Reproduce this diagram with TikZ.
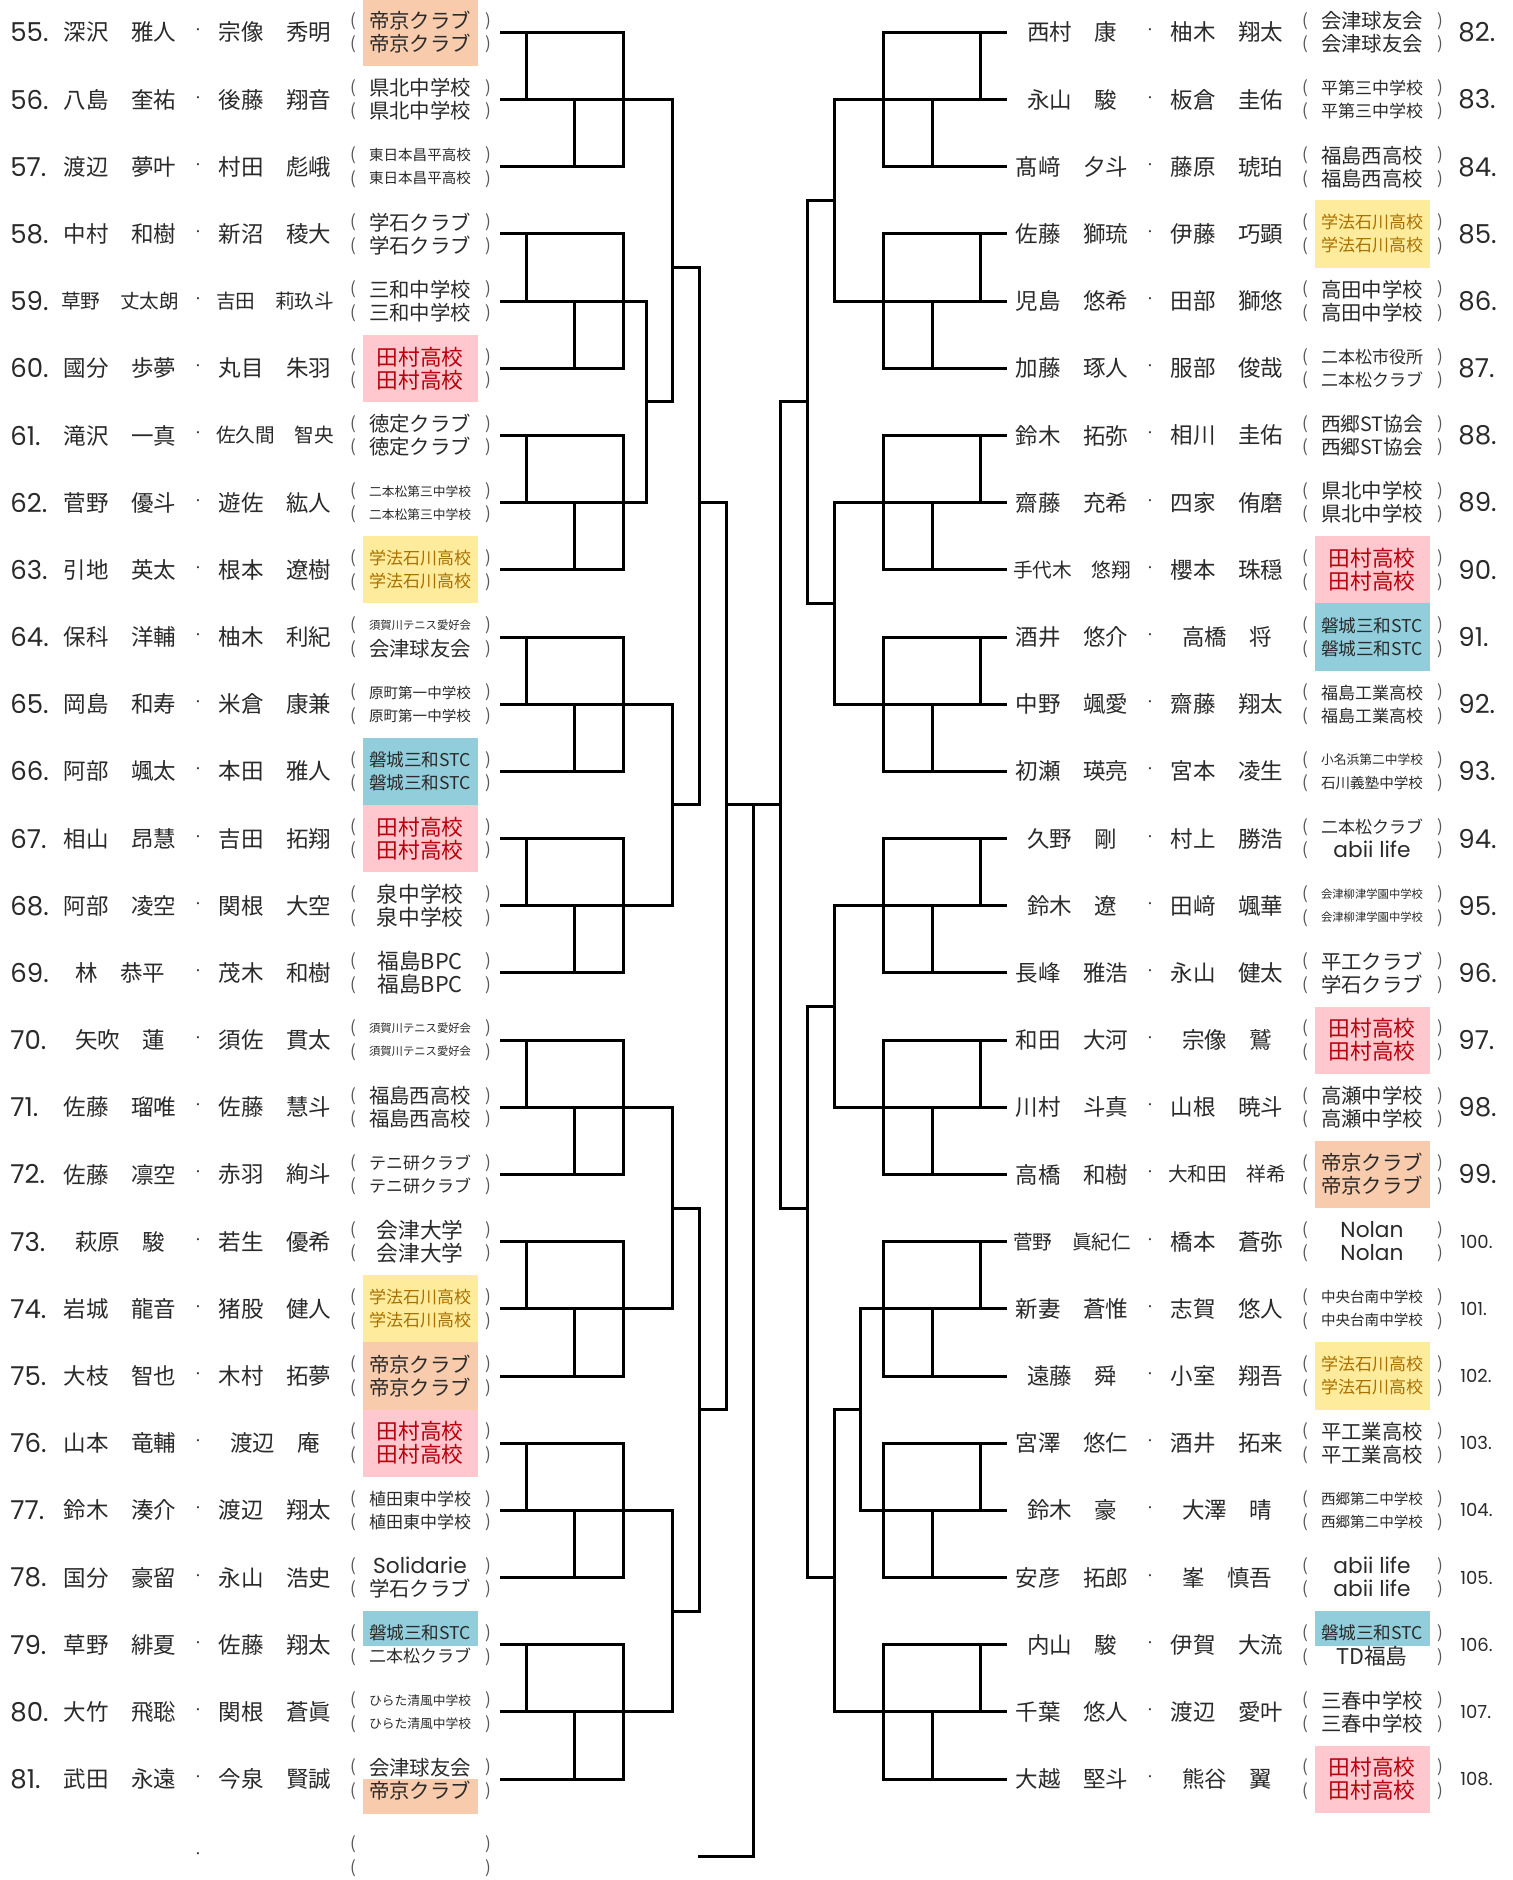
\documentclass[tikz,border=0pt]{standalone}
\usepackage{fontspec}
\usepackage{graphicx}
\setmainfont{Noto Sans CJK JP}
\newfontfamily\latfont{Poppins}
\definecolor{txt}{HTML}{2A2A2A}
\definecolor{prc}{HTML}{555555}
\definecolor{peachc}{HTML}{F8CBAD}
\definecolor{pinkc}{HTML}{FFC7CE}
\definecolor{yelc}{HTML}{FFEB9C}
\definecolor{tealc}{HTML}{92CDDC}
\definecolor{tmred}{HTML}{B8000C}
\definecolor{gkor}{HTML}{A87000}
\newsavebox\fitbx
\newcommand\fitw[2]{\sbox\fitbx{#2}\ifdim\wd\fitbx>#1\relax\resizebox{#1}{!}{\usebox\fitbx}\else\usebox\fitbx\fi}
\newcommand\TMR{\textcolor{tmred}{田村高校}}
\newcommand\GKH{\textcolor{gkor}{学法石川高校}}
\newcommand\LT[1]{{\latfont\raisebox{0pt}[0.72em][0.02em]{#1}}}
\tikzset{
  br/.style={line width=1.5pt, line cap=rect, line join=miter, draw=black},
  nm/.style={inner sep=0pt, text=txt, font=\fontsize{11.25}{12}\selectfont},
  sc/.style={inner sep=0pt, text=txt, font=\fontsize{10.85}{12}\selectfont},
  pr/.style={inner sep=0pt, text=prc, font=\fontsize{8.5}{10}\selectfont},
  dt/.style={inner sep=0pt, text=txt, font=\fontsize{8}{10}\selectfont},
  num/.style={inner sep=0pt, text=txt, anchor=west, font=\latfont\fontsize{13}{14}\selectfont},
  numsm/.style={inner sep=0pt, text=txt, anchor=west, font=\latfont\fontsize{9}{10}\selectfont},
}
% #1 id, #2 dx, #3 row index, #4 name1, #5 name2, #6 school1, #7 school2
\newcommand\PairRow[7]{%
  \pgfmathsetmacro\yy{32.4+67.18*#3}%
  \node[nm] (#1p) at ({120+#2},\yy) {\fitw{59pt}{#4}};
  \node[dt] (#1d) at ({198+#2},\yy) {·};
  \node[nm] (#1q) at ({275+#2},\yy) {\fitw{59pt}{#5}};
  \node[pr] (#1la) at ({353+#2},{\yy-11.5}) {(};
  \node[pr] (#1lb) at ({353+#2},{\yy+12}) {(};
  \node[pr] (#1ra) at ({488+#2},{\yy-11.5}) {)};
  \node[pr] (#1rb) at ({488+#2},{\yy+12}) {)};
  \node[sc] (#1s) at ({420+#2},{\yy-11.5}) {\fitw{51pt}{#6}};
  \node[sc] (#1t) at ({420+#2},{\yy+11.5}) {\fitw{51pt}{#7}};
}
\newcommand\BgF[3]{\fill[#3] ({363+#1},{32.4+67.18*#2-33.6}) rectangle ({478+#1},{32.4+67.18*#2+33.6});}
\newcommand\BgT[3]{\fill[#3] ({363+#1},{32.4+67.18*#2-33.6}) rectangle ({478+#1},{32.4+67.18*#2+1});}
\newcommand\BgB[3]{\fill[#3] ({363+#1},{32.4+67.18*#2}) rectangle ({478+#1},{32.4+67.18*#2+35});}
\begin{document}
\begin{tikzpicture}[x=0.5pt,y=-0.5pt]
\useasboundingbox (0,0) rectangle (1513,1880);
\fill[white] (0,0) rectangle (1513,1880);
% ---------- school backgrounds
\BgF{0}{0}{peachc}
\BgF{0}{5}{pinkc}
\BgF{0}{8}{yelc}
\BgF{0}{11}{tealc}
\BgF{0}{12}{pinkc}
\BgF{0}{19}{yelc}
\BgF{0}{20}{peachc}
\BgF{0}{21}{pinkc}
\BgT{0}{24}{tealc}
\BgB{0}{26}{peachc}
\BgF{952}{3}{yelc}
\BgF{952}{8}{pinkc}
\BgF{952}{9}{tealc}
\BgF{952}{15}{pinkc}
\BgF{952}{17}{peachc}
\BgF{952}{20}{yelc}
\BgT{952}{24}{tealc}
\BgF{952}{26}{pinkc}
% ---------- bracket coordinates
\coordinate (LA) at (501,0);
\coordinate (LB) at (526,0);
\coordinate (LC) at (574,0);
\coordinate (LD) at (623,0);
\coordinate (L1) at (646,0);
\coordinate (L2) at (672,0);
\coordinate (L3) at (699,0);
\coordinate (L4) at (726,0);
\coordinate (CC) at (753,0);
\coordinate (R4) at (780,0);
\coordinate (R3) at (807,0);
\coordinate (R2) at (834,0);
\coordinate (R1) at (860,0);
\coordinate (RD) at (883,0);
\coordinate (RC) at (932,0);
\coordinate (RB) at (980,0);
\coordinate (RA) at (1005,0);
\foreach \h in {0,...,52} \coordinate (h\h) at (0,{32.4+33.59*\h});
\coordinate (hbot) at (0,1856);
% ---------- first-round groups of three
\foreach \a in {0,6,...,48}{
  \pgfmathtruncatemacro\b{\a+2}\pgfmathtruncatemacro\c{\a+4}
  \draw[br] (LA|-h\a) -- (LD|-h\a) -- (LD|-h\c) -- (LA|-h\c);
  \draw[br] (LA|-h\b) -- (LD|-h\b);
  \draw[br] (LB|-h\a) -- (LB|-h\b);
  \draw[br] (LC|-h\b) -- (LC|-h\c);
  \draw[br] (RA|-h\a) -- (RD|-h\a) -- (RD|-h\c) -- (RA|-h\c);
  \draw[br] (RA|-h\b) -- (RD|-h\b);
  \draw[br] (RB|-h\a) -- (RB|-h\b);
  \draw[br] (RC|-h\b) -- (RC|-h\c);
}
% ---------- left side
\draw[br] (LD|-h8) -- (L1|-h8) -- (L1|-h14) -- (LD|-h14);
\draw[br] (L1|-h11) -- (L2|-h11);
\draw[br] (LD|-h2) -- (L2|-h2) -- (L2|-h11);
\draw[br] (L2|-h7) -- (L3|-h7);
\draw[br] (LD|-h20) -- (L2|-h20) -- (L2|-h26) -- (LD|-h26);
\draw[br] (L2|-h23) -- (L3|-h23);
\draw[br] (L3|-h7) -- (L3|-h23);
\draw[br] (L3|-h14) -- (L4|-h14);
\draw[br] (LD|-h32) -- (L2|-h32) -- (L2|-h38) -- (LD|-h38);
\draw[br] (L2|-h35) -- (L3|-h35);
\draw[br] (LD|-h44) -- (L2|-h44) -- (L2|-h50) -- (LD|-h50);
\draw[br] (L2|-h47) -- (L3|-h47);
\draw[br] (L3|-h35) -- (L3|-h47);
\draw[br] (L3|-h41) -- (L4|-h41);
\draw[br] (L4|-h14) -- (L4|-h41);
\draw[br] (L4|-h23) -- (R4|-h23);
\draw[br] (CC|-h23) -- (CC|-hbot) -- (L3|-hbot);
% ---------- right side
\draw[br] (RD|-h2) -- (R2|-h2) -- (R2|-h8) -- (RD|-h8);
\draw[br] (R2|-h5) -- (R3|-h5);
\draw[br] (RD|-h14) -- (R2|-h14) -- (R2|-h20) -- (RD|-h20);
\draw[br] (R2|-h17) -- (R3|-h17);
\draw[br] (R3|-h5) -- (R3|-h17);
\draw[br] (R3|-h11) -- (R4|-h11);
\draw[br] (RD|-h26) -- (R2|-h26) -- (R2|-h32) -- (RD|-h32);
\draw[br] (R2|-h29) -- (R3|-h29);
\draw[br] (RD|-h38) -- (R1|-h38) -- (R1|-h44) -- (RD|-h44);
\draw[br] (R1|-h41) -- (R2|-h41);
\draw[br] (R2|-h41) -- (R2|-h50) -- (RD|-h50);
\draw[br] (R2|-h46) -- (R3|-h46);
\draw[br] (R3|-h29) -- (R3|-h46);
\draw[br] (R3|-h35) -- (R4|-h35);
\draw[br] (R4|-h11) -- (R4|-h35);
% ---------- numbers
\foreach \n [count=\i from 0] in {55,...,81} \node[num] (k\n) at (10,{32.4+67.18*\i}) {\n.};
\foreach \n [count=\i from 0] in {82,...,99} \node[num] (k\n) at (1458,{32.4+67.18*\i}) {\n.};
\foreach \n [count=\i from 18] in {100,...,108} \node[numsm] (k\n) at (1460,{32.4+67.18*\i}) {\n.};
% ---------- left entries
\PairRow{a55}{0}{0}{深沢　雅人}{宗像　秀明}{帝京クラブ}{帝京クラブ}
\PairRow{a56}{0}{1}{八島　奎祐}{後藤　翔音}{県北中学校}{県北中学校}
\PairRow{a57}{0}{2}{渡辺　夢叶}{村田　彪峨}{東日本昌平高校}{東日本昌平高校}
\PairRow{a58}{0}{3}{中村　和樹}{新沼　稜大}{学石クラブ}{学石クラブ}
\PairRow{a59}{0}{4}{草野　丈太朗}{吉田　莉玖斗}{三和中学校}{三和中学校}
\PairRow{a60}{0}{5}{國分　歩夢}{丸目　朱羽}{\TMR}{\TMR}
\PairRow{a61}{0}{6}{滝沢　一真}{佐久間　智央}{徳定クラブ}{徳定クラブ}
\PairRow{a62}{0}{7}{菅野　優斗}{遊佐　紘人}{二本松第三中学校}{二本松第三中学校}
\PairRow{a63}{0}{8}{引地　英太}{根本　遼樹}{\GKH}{\GKH}
\PairRow{a64}{0}{9}{保科　洋輔}{柚木　利紀}{須賀川テニス愛好会}{会津球友会}
\PairRow{a65}{0}{10}{岡島　和寿}{米倉　康兼}{原町第一中学校}{原町第一中学校}
\PairRow{a66}{0}{11}{阿部　颯太}{本田　雅人}{磐城三和STC}{磐城三和STC}
\PairRow{a67}{0}{12}{相山　昂慧}{吉田　拓翔}{\TMR}{\TMR}
\PairRow{a68}{0}{13}{阿部　凌空}{関根　大空}{泉中学校}{泉中学校}
\PairRow{a69}{0}{14}{林　恭平}{茂木　和樹}{福島BPC}{福島BPC}
\PairRow{a70}{0}{15}{矢吹　蓮}{須佐　貫太}{須賀川テニス愛好会}{須賀川テニス愛好会}
\PairRow{a71}{0}{16}{佐藤　瑠唯}{佐藤　慧斗}{福島西高校}{福島西高校}
\PairRow{a72}{0}{17}{佐藤　凛空}{赤羽　絢斗}{テニ研クラブ}{テニ研クラブ}
\PairRow{a73}{0}{18}{萩原　駿}{若生　優希}{会津大学}{会津大学}
\PairRow{a74}{0}{19}{岩城　龍音}{猪股　健人}{\GKH}{\GKH}
\PairRow{a75}{0}{20}{大枝　智也}{木村　拓夢}{帝京クラブ}{帝京クラブ}
\PairRow{a76}{0}{21}{山本　竜輔}{渡辺　庵}{\TMR}{\TMR}
\PairRow{a77}{0}{22}{鈴木　湊介}{渡辺　翔太}{植田東中学校}{植田東中学校}
\PairRow{a78}{0}{23}{国分　豪留}{永山　浩史}{\LT{Solidarie}}{学石クラブ}
\PairRow{a79}{0}{24}{草野　緋夏}{佐藤　翔太}{磐城三和STC}{二本松クラブ}
\PairRow{a80}{0}{25}{大竹　飛聡}{関根　蒼眞}{ひらた清風中学校}{ひらた清風中学校}
\PairRow{a81}{0}{26}{武田　永遠}{今泉　賢誠}{会津球友会}{帝京クラブ}
% empty row
\node[dt] (e0d) at (198,1856) {·};
\node[pr] (e0la) at (353,1844.5) {(};
\node[pr] (e0lb) at (353,1868) {(};
\node[pr] (e0ra) at (488,1844.5) {)};
\node[pr] (e0rb) at (488,1868) {)};
% ---------- right entries
\PairRow{b82}{952}{0}{西村　康}{柚木　翔太}{会津球友会}{会津球友会}
\PairRow{b83}{952}{1}{永山　駿}{板倉　圭佑}{平第三中学校}{平第三中学校}
\PairRow{b84}{952}{2}{髙﨑　夕斗}{藤原　琥珀}{福島西高校}{福島西高校}
\PairRow{b85}{952}{3}{佐藤　獅琉}{伊藤　巧顕}{\GKH}{\GKH}
\PairRow{b86}{952}{4}{児島　悠希}{田部　獅悠}{高田中学校}{高田中学校}
\PairRow{b87}{952}{5}{加藤　琢人}{服部　俊哉}{二本松市役所}{二本松クラブ}
\PairRow{b88}{952}{6}{鈴木　拓弥}{相川　圭佑}{西郷ST協会}{西郷ST協会}
\PairRow{b89}{952}{7}{齋藤　充希}{四家　侑磨}{県北中学校}{県北中学校}
\PairRow{b90}{952}{8}{手代木　悠翔}{櫻本　珠穏}{\TMR}{\TMR}
\PairRow{b91}{952}{9}{酒井　悠介}{高橋　将}{磐城三和STC}{磐城三和STC}
\PairRow{b92}{952}{10}{中野　颯愛}{齋藤　翔太}{福島工業高校}{福島工業高校}
\PairRow{b93}{952}{11}{初瀬　瑛亮}{宮本　凌生}{小名浜第二中学校}{石川義塾中学校}
\PairRow{b94}{952}{12}{久野　剛}{村上　勝浩}{二本松クラブ}{\LT{abii life}}
\PairRow{b95}{952}{13}{鈴木　遼}{田﨑　颯華}{会津柳津学園中学校}{会津柳津学園中学校}
\PairRow{b96}{952}{14}{長峰　雅浩}{永山　健太}{平工クラブ}{学石クラブ}
\PairRow{b97}{952}{15}{和田　大河}{宗像　鷲}{\TMR}{\TMR}
\PairRow{b98}{952}{16}{川村　斗真}{山根　暁斗}{高瀬中学校}{高瀬中学校}
\PairRow{b99}{952}{17}{高橋　和樹}{大和田　祥希}{帝京クラブ}{帝京クラブ}
\PairRow{b100}{952}{18}{菅野　眞紀仁}{橋本　蒼弥}{\LT{Nolan}}{\LT{Nolan}}
\PairRow{b101}{952}{19}{新妻　蒼惟}{志賀　悠人}{中央台南中学校}{中央台南中学校}
\PairRow{b102}{952}{20}{遠藤　舜}{小室　翔吾}{\GKH}{\GKH}
\PairRow{b103}{952}{21}{宮澤　悠仁}{酒井　拓来}{平工業高校}{平工業高校}
\PairRow{b104}{952}{22}{鈴木　豪}{大澤　晴}{西郷第二中学校}{西郷第二中学校}
\PairRow{b105}{952}{23}{安彦　拓郎}{峯　慎吾}{\LT{abii life}}{\LT{abii life}}
\PairRow{b106}{952}{24}{内山　駿}{伊賀　大流}{磐城三和STC}{TD福島}
\PairRow{b107}{952}{25}{千葉　悠人}{渡辺　愛叶}{三春中学校}{三春中学校}
\PairRow{b108}{952}{26}{大越　堅斗}{熊谷　翼}{\TMR}{\TMR}
\end{tikzpicture}
\end{document}
